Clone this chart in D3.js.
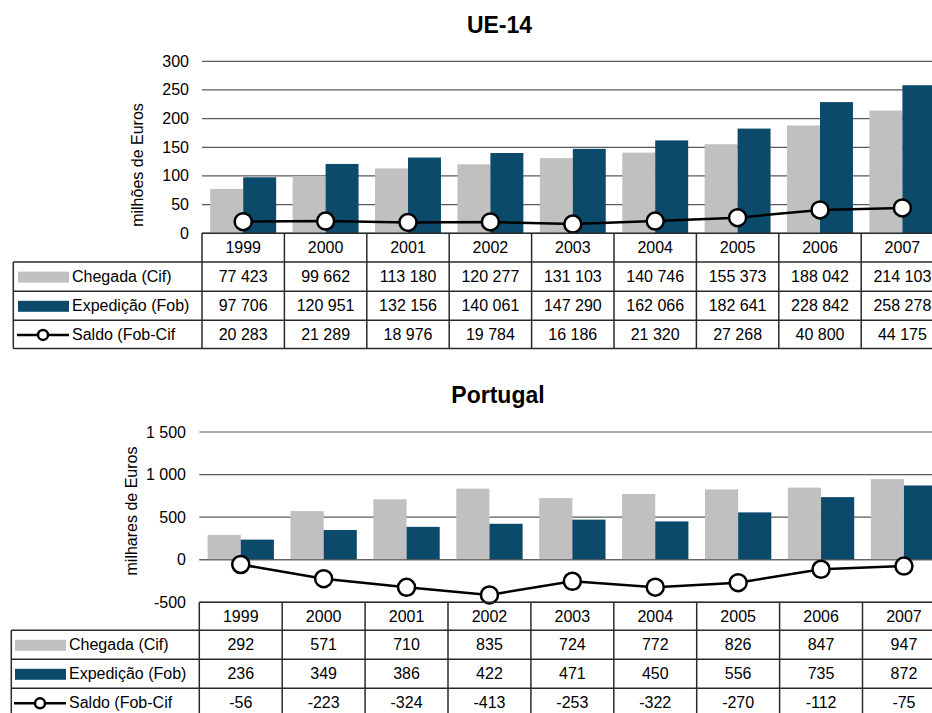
<!DOCTYPE html>
<html>
<head>
<meta charset="utf-8">
<script src="https://cdn.jsdelivr.net/npm/d3@7"></script>
<style>
  html, body { margin: 0; padding: 0; background: #fff; overflow: hidden; }
  svg { display: block; font-family: "Liberation Sans", Arial, sans-serif; }
</style>
</head>
<body>
<svg id="chart" width="932" height="713"></svg>
<script>
// ---- Data ----
const years = ["1999", "2000", "2001", "2002", "2003", "2004", "2005", "2006", "2007"];
const seriesNames = ["Chegada (Cif)", "Expedição (Fob)", "Saldo (Fob-Cif"];

const ueChegada   = [77423, 99662, 113180, 120277, 131103, 140746, 155373, 188042, 214103];
const ueExpedicao = [97706, 120951, 132156, 140061, 147290, 162066, 182641, 228842, 258278];
const ueSaldo     = [20283, 21289, 18976, 19784, 16186, 21320, 27268, 40800, 44175];
const ueTicks     = [0, 50000, 100000, 150000, 200000, 250000, 300000];

const ptChegada   = [292, 571, 710, 835, 724, 772, 826, 847, 947];
const ptExpedicao = [236, 349, 386, 422, 471, 450, 556, 735, 872];
const ptSaldo     = [-56, -223, -324, -413, -253, -322, -270, -112, -75];
const ptTicks     = [-500, 0, 500, 1000, 1500];

// ---- Style ----
const GREY = "#c0c0c0";
const BLUE = "#0c4a6b";
const GRID = "#5a5a5a";
const TABLE = "#2a2a2a";

const loc = d3.formatLocale({decimal: ",", thousands: " ", grouping: [3], currency: ["", ""], minus: "-"});
const fmt = loc.format(",d");

const svg = d3.select("#chart");

function drawChart(cfg) {
  const g = svg.append("g");
  const x = d3.scaleBand().domain(years).range([cfg.left, cfg.left + cfg.band * years.length]).padding(0);
  const x1 = d3.scaleBand().domain(["c", "e"]).range([0, x.bandwidth()]).paddingInner(0).paddingOuter(0.25);
  const y = d3.scaleLinear().domain(cfg.domain).range([cfg.yBottom, cfg.yTop]);

  // title
  g.append("text").attr("x", cfg.titleX).attr("y", cfg.titleY)
    .attr("text-anchor", "middle").attr("font-size", 23).attr("font-weight", "bold")
    .attr("fill", "#000").text(cfg.title);

  // gridlines
  g.append("g").selectAll("line").data(cfg.ticks).join("line")
    .attr("x1", cfg.left).attr("x2", 932)
    .attr("y1", d => y(d)).attr("y2", d => y(d))
    .attr("stroke", GRID).attr("stroke-width", 1.2);

  // tick labels
  g.append("g").selectAll("text").data(cfg.ticks).join("text")
    .attr("x", cfg.tickX).attr("y", d => y(d) + 5.5)
    .attr("text-anchor", "end").attr("font-size", 16).attr("fill", "#000")
    .text(d => fmt(d / cfg.div));

  // y label
  g.append("text")
    .attr("transform", `translate(${cfg.labelX},${cfg.labelY}) rotate(-90)`)
    .attr("text-anchor", "middle").attr("font-size", 16).attr("fill", "#000")
    .text(cfg.yLabel);

  // bars
  const barData = years.map((yr, i) => ({yr, c: cfg.chegada[i], e: cfg.expedicao[i]}));
  const grp = g.append("g").selectAll("g").data(barData).join("g")
    .attr("transform", d => `translate(${x(d.yr)},0)`);
  grp.append("rect").attr("x", x1("c")).attr("width", x1.bandwidth())
    .attr("y", d => y(d.c)).attr("height", d => y(0) - y(d.c)).attr("fill", GREY);
  grp.append("rect").attr("x", x1("e")).attr("width", x1.bandwidth())
    .attr("y", d => y(d.e)).attr("height", d => y(0) - y(d.e)).attr("fill", BLUE);

  // zero line redraw for bottom chart (over bars)
  if (cfg.domain[0] < 0) {
    g.append("line").attr("x1", cfg.left).attr("x2", 932).attr("y1", y(0)).attr("y2", y(0))
      .attr("stroke", GRID).attr("stroke-width", 1.2);
  }

  // saldo line
  const cx = d => x(d) + x.bandwidth() / 2;
  const line = d3.line().x((d, i) => cx(years[i])).y(d => y(d));
  g.append("path").datum(cfg.saldo).attr("d", line)
    .attr("fill", "none").attr("stroke", "#000").attr("stroke-width", 2.5);
  g.append("g").selectAll("circle").data(cfg.saldo).join("circle")
    .attr("cx", (d, i) => cx(years[i])).attr("cy", d => y(d)).attr("r", 8.5)
    .attr("fill", "#fff").attr("stroke", "#000").attr("stroke-width", 2.5);

  // table
  const rows = cfg.rows; // y positions of row boundaries (5 values)
  const right = cfg.left + cfg.band * years.length;
  const tg = g.append("g");
  // horizontal lines
  tg.append("line").attr("x1", cfg.left).attr("x2", right).attr("y1", rows[0]).attr("y2", rows[0])
    .attr("stroke", TABLE).attr("stroke-width", 1.5);
  tg.selectAll("line.h").data(rows.slice(1)).join("line").attr("class", "h")
    .attr("x1", cfg.legLeft).attr("x2", right).attr("y1", d => d).attr("y2", d => d)
    .attr("stroke", TABLE).attr("stroke-width", 1.5);
  // vertical lines
  const vx = years.map(yr => x(yr));
  tg.selectAll("line.v").data(vx).join("line").attr("class", "v")
    .attr("x1", d => d).attr("x2", d => d).attr("y1", rows[0]).attr("y2", rows[4])
    .attr("stroke", TABLE).attr("stroke-width", 1.5);
  tg.append("line").attr("x1", cfg.legLeft).attr("x2", cfg.legLeft).attr("y1", rows[1]).attr("y2", rows[4])
    .attr("stroke", TABLE).attr("stroke-width", 1.5);

  // year labels
  tg.selectAll("text.yr").data(years).join("text").attr("class", "yr")
    .attr("x", d => cx(d)).attr("y", (rows[0] + rows[1]) / 2 + 5.5)
    .attr("text-anchor", "middle").attr("font-size", 16).attr("fill", "#000").text(d => d);

  const tableSeries = [cfg.chegada, cfg.expedicao, cfg.saldo];
  tableSeries.forEach((vals, r) => {
    const mid = (rows[r + 1] + rows[r + 2]) / 2;
    tg.append("g").selectAll("text").data(vals).join("text")
      .attr("x", (d, i) => cx(years[i])).attr("y", mid + 5.5)
      .attr("text-anchor", "middle").attr("font-size", 16).attr("fill", "#000")
      .text(d => fmt(d));
    // legend
    const lx = cfg.legSwatch;
    if (r < 2) {
      tg.append("rect").attr("x", lx).attr("y", mid - 5).attr("width", 51).attr("height", 11)
        .attr("fill", r === 0 ? GREY : BLUE);
    } else {
      tg.append("line").attr("x1", lx - 1).attr("x2", lx + 51).attr("y1", mid + 0.5).attr("y2", mid + 0.5)
        .attr("stroke", "#000").attr("stroke-width", 2.5);
      tg.append("circle").attr("cx", lx + 25).attr("cy", mid + 0.5).attr("r", 5)
        .attr("fill", "#fff").attr("stroke", "#000").attr("stroke-width", 2.5);
    }
    tg.append("text").attr("x", lx + 54).attr("y", mid + 5.5)
      .attr("font-size", 16).attr("fill", "#000").text(seriesNames[r]);
  });
}

drawChart({
  title: "UE-14", titleX: 499.5, titleY: 33,
  left: 202, band: 82.4, yTop: 61.3, yBottom: 233.3, domain: [0, 300000],
  ticks: ueTicks, div: 1000, tickX: 189,
  yLabel: "milhões de Euros", labelX: 143, labelY: 165,
  chegada: ueChegada, expedicao: ueExpedicao, saldo: ueSaldo,
  rows: [233.3, 262, 291.3, 320.3, 348.5], legLeft: 13.3, legSwatch: 18
});

drawChart({
  title: "Portugal", titleX: 498, titleY: 403,
  left: 199.3, band: 82.9, yTop: 432, yBottom: 602.3, domain: [-500, 1500],
  ticks: ptTicks, div: 1, tickX: 186,
  yLabel: "milhares de Euros", labelX: 137, labelY: 511,
  chegada: ptChegada, expedicao: ptExpedicao, saldo: ptSaldo,
  rows: [602.3, 630.3, 659.3, 688.3, 717.3], legLeft: 11.3, legSwatch: 15
});
</script>
</body>
</html>
